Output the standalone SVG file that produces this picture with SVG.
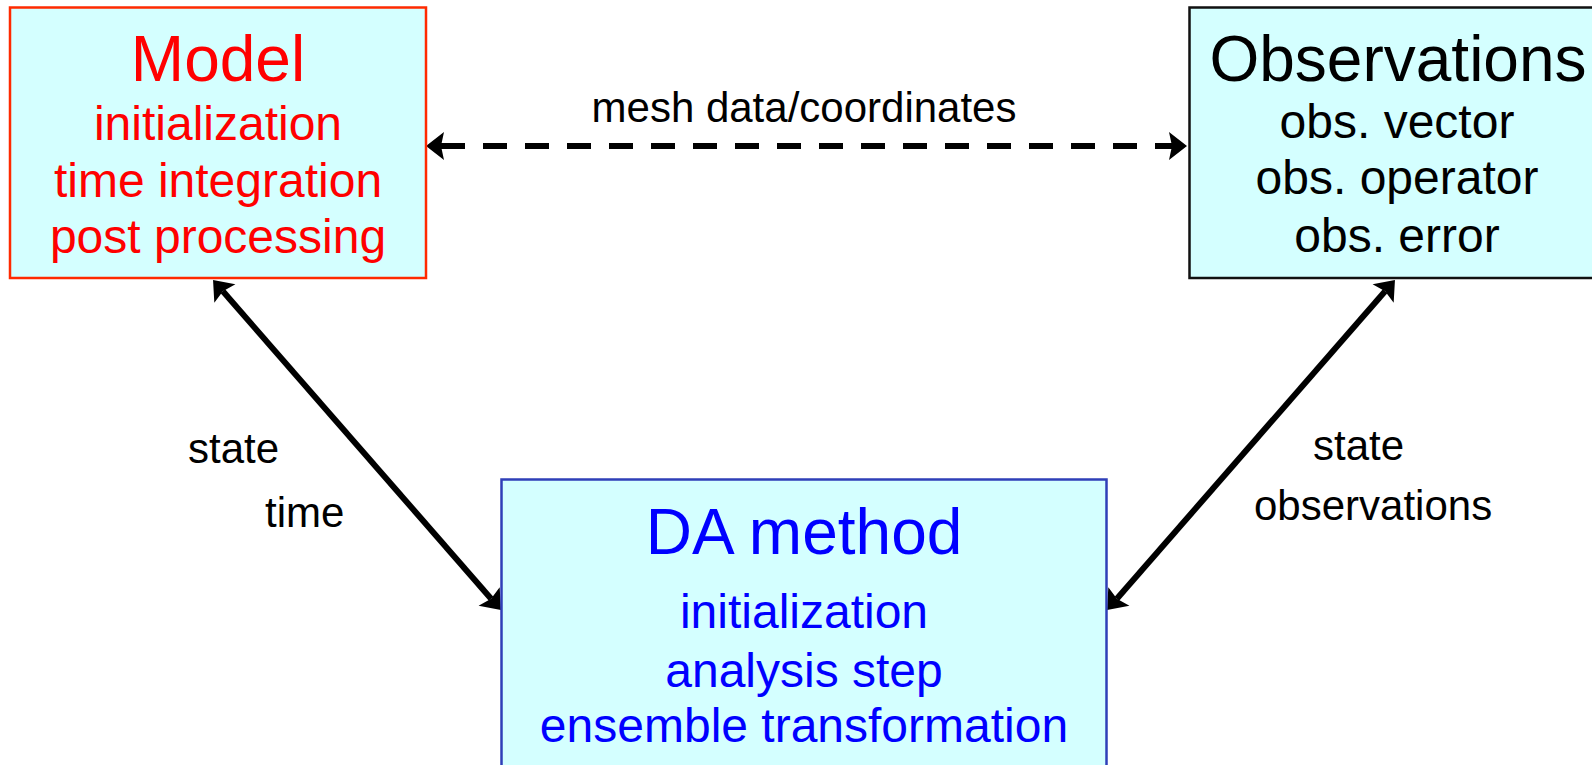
<svg xmlns="http://www.w3.org/2000/svg" width="1592" height="765" viewBox="0 0 1592 765">
  <style>
    .box { fill: #D4FFFF; stroke-width: 2.5; }
    .t { font-family: "Liberation Sans", Arial, Helvetica, sans-serif; text-anchor: middle; }
    .head { font-size: 64px; }
    .sub { font-size: 48px; }
    .lbl { font-family: "Liberation Sans", Arial, Helvetica, sans-serif; font-size: 42px; fill: #000; }
    .link { fill: none; stroke: #000; stroke-width: 6; marker-start: url(#arrow); marker-end: url(#arrow); }
    .dashed { stroke-dasharray: 24 18; }
  </style>
  <defs>
    <marker id="arrow" markerUnits="userSpaceOnUse" viewBox="-2 -16 24 32" markerWidth="24" markerHeight="32" refX="3" refY="0" orient="auto-start-reverse" overflow="visible">
      <path d="M0,-14 L18,0 L0,14 L3,0 z" fill="#000"/>
    </marker>
  </defs>

  <rect width="1592" height="765" fill="#fff"/>

  <!-- connectors -->
  <g id="connectors">
    <line class="link dashed" x1="441" y1="146" x2="1172" y2="146"/>
    <line class="link" x1="222.9" y1="291.3" x2="491.1" y2="598.7"/>
    <line class="link" x1="1385.1" y1="291.3" x2="1116.9" y2="598.7"/>
    <text class="lbl" x="804" y="122" text-anchor="middle">mesh data/coordinates</text>
    <text class="lbl" x="188" y="463">state</text>
    <text class="lbl" x="265" y="527">time</text>
    <text class="lbl" x="1313" y="460">state</text>
    <text class="lbl" x="1254" y="520">observations</text>
  </g>

  <!-- model component -->
  <g id="model">
    <rect class="box" x="10" y="7.5" width="416" height="270.5" stroke="#FF2A00"/>
    <g class="t" fill="#FF0000">
      <text class="head" x="218" y="81">Model</text>
      <text class="sub" x="218" y="140">initialization</text>
      <text class="sub" x="218" y="197">time integration</text>
      <text class="sub" x="218" y="253">post processing</text>
    </g>
  </g>

  <!-- observation component -->
  <g id="observations">
    <rect class="box" x="1189.5" y="7.5" width="420" height="270.5" stroke="#111"/>
    <g class="t" fill="#000">
      <text class="head" x="1398" y="81">Observations</text>
      <text class="sub" x="1397" y="138">obs. vector</text>
      <text class="sub" x="1397" y="194">obs. operator</text>
      <text class="sub" x="1397" y="252">obs. error</text>
    </g>
  </g>

  <!-- data assimilation method -->
  <g id="da-method">
    <rect class="box" x="501.5" y="479.5" width="605" height="300" stroke="#2F3FB8"/>
    <g class="t" fill="#0000FF">
      <text class="head" x="804" y="554">DA method</text>
      <text class="sub" x="804" y="628">initialization</text>
      <text class="sub" x="804" y="687">analysis step</text>
      <text class="sub" x="804" y="742">ensemble transformation</text>
    </g>
  </g>
</svg>
